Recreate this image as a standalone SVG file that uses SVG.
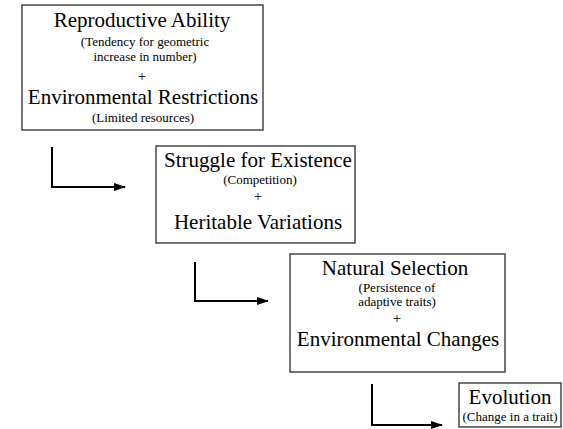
<svg xmlns="http://www.w3.org/2000/svg" width="563" height="429" viewBox="0 0 563 429">
<style>
.box{fill:#fff;stroke:#3a3a3a;stroke-width:1.4}
text{font-family:'Liberation Serif','Times New Roman',serif;fill:#000;text-anchor:middle}
.big{font-size:21px}
.small{font-size:13px}
.plus{font-size:15px}
.conn{fill:none;stroke:#000;stroke-width:2}
</style>
<defs>
<marker id="ah" viewBox="0 0 12 8" refX="11" refY="4" markerWidth="12" markerHeight="8" markerUnits="userSpaceOnUse" orient="auto">
<path d="M0,0 L12,4 L0,8 Z" fill="#000"/>
</marker>
</defs>
<rect width="563" height="429" fill="#fff"/>
<g id="node1">
<rect class="box" x="22" y="5" width="241" height="125"/>
<text class="big" x="142" y="27">Reproductive Ability</text>
<text class="small" x="145" y="46">(Tendency for geometric</text>
<text class="small" x="145" y="61">increase in number)</text>
<text class="plus" x="142" y="81">+</text>
<text class="big" x="143" y="104">Environmental Restrictions</text>
<text class="small" x="143" y="122">(Limited resources)</text>
</g>
<g id="node2">
<rect class="box" x="156" y="146" width="199" height="97"/>
<text class="big" x="258" y="167">Struggle for Existence</text>
<text class="small" x="260" y="184">(Competition)</text>
<text class="plus" x="258" y="201">+</text>
<text class="big" x="258" y="229">Heritable Variations</text>
</g>
<g id="node3">
<rect class="box" x="290" y="254" width="215" height="118"/>
<text class="big" x="395" y="275">Natural Selection</text>
<text class="small" x="397" y="292">(Persistence of</text>
<text class="small" x="397" y="306">adaptive traits)</text>
<text class="plus" x="397" y="323">+</text>
<text class="big" x="398" y="346">Environmental Changes</text>
</g>
<g id="node4">
<rect class="box" x="459" y="383" width="102" height="44"/>
<text class="big" x="510" y="404">Evolution</text>
<text class="small" x="510" y="421">(Change in a trait)</text>
</g>
<g id="connectors">
<path class="conn" d="M52,147 V187 H125" marker-end="url(#ah)"/>
<path class="conn" d="M195,262 V301 H268" marker-end="url(#ah)"/>
<path class="conn" d="M372,384 V425 H442" marker-end="url(#ah)"/>
</g>
</svg>
